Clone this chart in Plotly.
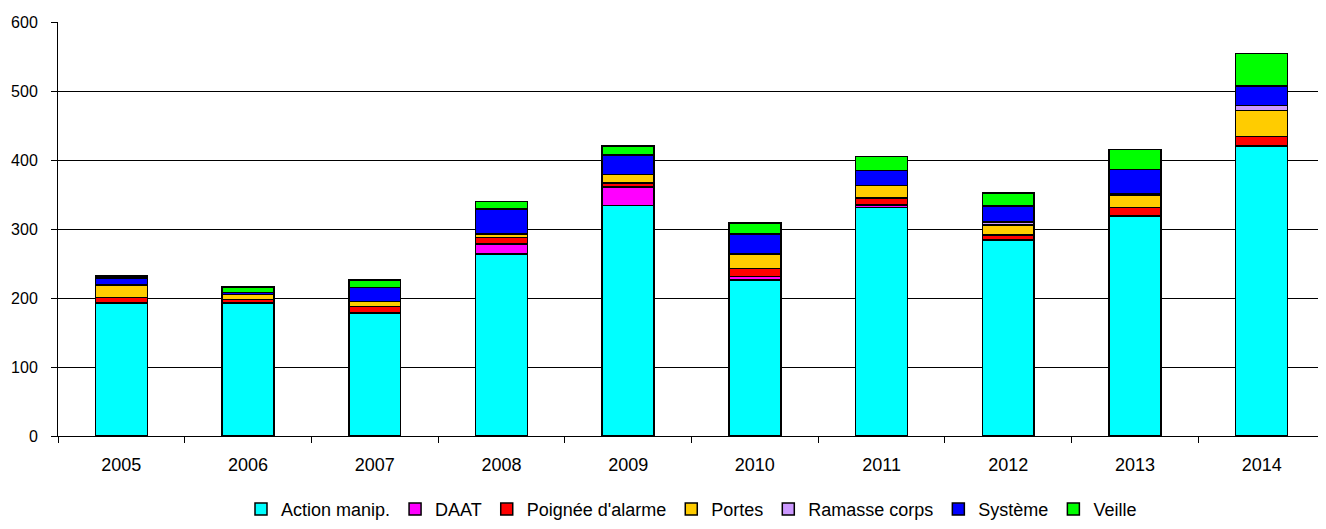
import plotly.graph_objects as go

# years on the x axis
years = ["2005", "2006", "2007", "2008", "2009", "2010", "2011", "2012", "2013", "2014"]

# one list per category
action_manip = [193, 193, 178, 264, 334, 226, 331, 284, 319, 420]
daat = [0, 0, 0, 14, 27, 5, 4, 0, 0, 0]
poignee = [8, 5, 10, 10, 6, 12, 10, 7, 12, 14]
portes = [18, 7, 7, 5, 12, 21, 18, 15, 18, 38]
ramasse = [0, 0, 0, 0, 0, 0, 0, 4, 2, 7]
systeme = [10, 3, 20, 36, 28, 29, 22, 23, 35, 28]
veille = [3, 8, 11, 11, 13, 16, 20, 19, 29, 47]

series = [
    ("Action manip.", action_manip, "#00FFFF"),
    ("DAAT", daat, "#FF00FF"),
    ("Poignée d'alarme", poignee, "#FF0000"),
    ("Portes", portes, "#FFCC00"),
    ("Ramasse corps", ramasse, "#CC99FF"),
    ("Système", systeme, "#0000FF"),
    ("Veille", veille, "#00FF00"),
]

fig = go.Figure()
for name, vals, col in series:
    fig.add_trace(go.Bar(
        x=years, y=vals, name=name,
        marker=dict(color=col, line=dict(color="black", width=1.5)),
    ))

# page body has an 8px margin, so the figure is a bit smaller and shifted
fig.update_layout(
    barmode="stack",
    bargap=0.59,
    width=1318, height=521,
    margin=dict(l=50, r=1, t=14, b=93),
    paper_bgcolor="white",
    plot_bgcolor="white",
    font=dict(family="Liberation Sans, Arial, sans-serif", color="black", size=16),
    legend=dict(
        orientation="h", x=0.5, xanchor="center", y=-0.222, yanchor="bottom",
        font=dict(size=18), itemwidth=30, traceorder="normal",
    ),
)
fig.update_xaxes(
    automargin=False,
    showline=True, linecolor="black", linewidth=1,
    ticks="outside", tickson="boundaries", ticklen=6, tickcolor="black",
    tickfont=dict(size=18), ticklabelstandoff=12,
    showgrid=False,
)
fig.update_yaxes(
    automargin=False,
    range=[0, 600], dtick=100,
    showline=True, linecolor="black", linewidth=1,
    ticks="outside", ticklen=6, tickcolor="black",
    tickfont=dict(size=16), ticklabelstandoff=10,
    showgrid=True, gridcolor="black", gridwidth=1,
    zeroline=False,
)

fig.write_html("out.html")
